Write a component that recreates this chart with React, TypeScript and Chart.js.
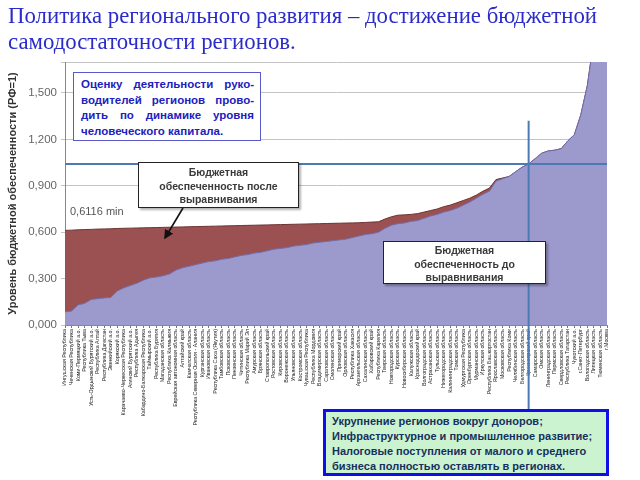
import React, { useEffect, useRef } from 'react';
import { Chart, registerables } from 'chart.js';

Chart.register(...registerables);

const regions: string[] = [
  'Ингушская Республика', 'Чеченская Республика', 'Коми-Пермяцкий а.о.', 'Республика Тыва',
  'Усть-Ордынский Бурятский а.о.', 'Республика Алтай', 'Республика Дагестан', 'Эвенкийский а.о.',
  'Корякский а.о.', 'Карачаево-Черкесская Республика', 'Агинский Бурятский а.о.', 'Республика Адыгея',
  'Кабардино-Балкарская Республика', 'Таймырский а.о.', 'Республика Бурятия', 'Магаданская область',
  'Республика Калмыкия', 'Еврейская автономная область', 'Алтайский край', 'Камчатская область',
  'Республика Северная Осетия - Алания', 'Курганская область', 'Ивановская область', 'Республика Саха (Якутия)',
  'Тамбовская область', 'Псковская область', 'Пензенская область', 'Читинская область',
  'Республика Марий Эл', 'Амурская область', 'Брянская область', 'Ставропольский край',
  'Ростовская область', 'Кировская область', 'Воронежская область', 'Ульяновская область',
  'Костромская область', 'Чувашская Республика', 'Республика Мордовия', 'Владимирская область',
  'Саратовская область', 'Смоленская область', 'Приморский край', 'Орловская область',
  'Республика Хакасия', 'Архангельская область', 'Сахалинская область', 'Хабаровский край',
  'Республика Карелия', 'Тверская область', 'Новгородская область', 'Курская область',
  'Новосибирская область', 'Калужская область', 'Краснодарский край', 'Волгоградская область',
  'Астраханская область', 'Тульская область', 'Нижегородская область', 'Калининградская область',
  'Томская область', 'Удмуртская Республика', 'Оренбургская область', 'Мурманская область',
  'Иркутская область', 'Республика Башкортостан', 'Ярославская область', 'Московская область',
  'Республика Коми', 'Челябинская область', 'Белгородская область', 'Красноярский край',
  'Самарская область', 'Омская область', 'Ленинградская область', 'Пермская область',
  'Свердловская область', 'Республика Татарстан', 'Чукотский а.о.', 'г.Санкт-Петербург',
  'Вологодская область', 'Липецкая область', 'Тюменская область', 'г.Москва',
];

// Budget sufficiency before equalization
const beforeEq: number[] = [
  0.085, 0.09, 0.13, 0.14, 0.165, 0.17, 0.175, 0.178, 0.22, 0.24,
  0.255, 0.27, 0.29, 0.305, 0.31, 0.318, 0.33, 0.355, 0.37, 0.38,
  0.39, 0.40, 0.41, 0.415, 0.425, 0.43, 0.44, 0.45, 0.455, 0.465,
  0.47, 0.48, 0.49, 0.495, 0.50, 0.51, 0.515, 0.52, 0.53, 0.535,
  0.54, 0.545, 0.55, 0.555, 0.565, 0.575, 0.585, 0.59, 0.60, 0.625,
  0.645, 0.655, 0.66, 0.67, 0.675, 0.69, 0.705, 0.715, 0.73, 0.74,
  0.755, 0.775, 0.795, 0.82, 0.845, 0.865, 0.93, 0.945, 0.96, 0.99,
  1.02, 1.04, 1.075, 1.11, 1.125, 1.13, 1.14, 1.19, 1.23, 1.36,
  1.55, 1.85, 2.1, 2.4,
];

// Budget sufficiency after equalization
const afterEq: number[] = [
  0.6116, 0.613, 0.615, 0.617, 0.618, 0.62, 0.621, 0.622, 0.624, 0.625,
  0.626, 0.627, 0.628, 0.629, 0.63, 0.631, 0.632, 0.633, 0.634, 0.635,
  0.636, 0.637, 0.638, 0.639, 0.64, 0.641, 0.642, 0.643, 0.644, 0.645,
  0.646, 0.647, 0.648, 0.649, 0.65, 0.651, 0.652, 0.653, 0.654, 0.655,
  0.656, 0.657, 0.658, 0.659, 0.66, 0.661, 0.663, 0.665, 0.667, 0.685,
  0.70, 0.71, 0.712, 0.715, 0.72, 0.73, 0.74, 0.75, 0.765, 0.775,
  0.79, 0.805, 0.82, 0.84, 0.865, 0.885, 0.94, 0.95, 0.96, 0.99,
  1.02, 1.04, 1.075, 1.11, 1.125, 1.13, 1.14, 1.19, 1.23, 1.36,
  1.55, 1.85, 2.1, 2.4,
];

const yMin = 0;
const yMax = 1.7;
const yStep = 0.3;
const minAfter = 0.6116;
const levelLine = 1.04;
const splitIndex = 71;
const splitTop = 1.32;

const titleLines = ['Политика регионального развития – достижение бюджетной', 'самодостаточности регионов.'];
const noteLines = ['Оценку деятельности руко-', 'водителей регионов прово-', 'дить по динамике уровня', 'человеческого капитала.'];
const afterLines = ['Бюджетная', 'обеспеченность после', 'выравнивания'];
const beforeLines = ['Бюджетная', 'обеспеченность до', 'выравнивания'];
const policyLines = [
  'Укрупнение регионов вокруг доноров;',
  'Инфраструктурное и промышленное развитие;',
  'Налоговые поступления от малого и среднего',
  'бизнеса полностью оставлять в регионах.',
];
const yTitle = 'Уровень бюджетной обеспеченности (РФ=1)';

const fmt = (v: number, d: number) => v.toFixed(d).replace('.', ',');

const guides = {
  id: 'guides',
  afterDatasetsDraw(chart: any) {
    const { ctx, chartArea, scales } = chart;
    const x = scales.x;
    const y = scales.y;
    ctx.save();
    ctx.strokeStyle = '#4d7ab5';
    ctx.lineWidth = 2;
    const yy = y.getPixelForValue(levelLine);
    ctx.beginPath();
    ctx.moveTo(chartArea.left, yy);
    ctx.lineTo(chartArea.right, yy);
    ctx.stroke();
    const xx = x.getPixelForValue(splitIndex);
    ctx.beginPath();
    ctx.moveTo(xx, y.getPixelForValue(splitTop));
    ctx.lineTo(xx, chartArea.bottom + 86);
    ctx.stroke();
    ctx.restore();
  },
};

const sans = '"Liberation Sans", Arial, sans-serif';

export default function App() {
  const ref = useRef<HTMLCanvasElement | null>(null);

  useEffect(() => {
    if (!ref.current) return;
    const chart = new Chart(ref.current, {
      type: 'line',
      data: {
        labels: regions,
        datasets: [
          {
            label: 'после выравнивания',
            data: afterEq,
            borderColor: '#6e3434',
            backgroundColor: '#9b5151',
            borderWidth: 1,
            pointRadius: 0,
            fill: 'origin',
            tension: 0,
            order: 2,
          },
          {
            label: 'до выравнивания',
            data: beforeEq,
            borderColor: '#716db0',
            backgroundColor: '#9c99cd',
            borderWidth: 1,
            pointRadius: 0,
            fill: 'origin',
            tension: 0,
            order: 1,
          },
        ],
      },
      options: {
        responsive: false,
        animation: false,
        layout: { padding: { left: 0, top: 62, right: 33, bottom: 0 } },
        plugins: {
          legend: { display: false },
          tooltip: { enabled: false },
        },
        scales: {
          x: {
            offset: false,
            afterFit: (s: any) => { s.height = 155; },
            grid: { drawOnChartArea: false, tickLength: 3, color: '#777' },
            border: { color: '#888' },
            ticks: {
              autoSkip: false,
              minRotation: 90,
              maxRotation: 90,
              padding: 1,
              color: '#222',
              font: { size: 5.3, family: sans },
            },
          },
          y: {
            min: yMin,
            max: yMax,
            afterFit: (s: any) => { s.width = 65; },
            border: { color: '#888' },
            grid: { color: '#c4c4c4', tickLength: 4 },
            ticks: {
              stepSize: yStep,
              color: '#666',
              padding: 4,
              font: { size: 11.5, family: sans },
              callback: (v: any) => {
                const n = Number(v);
                const k = Math.round(n / yStep);
                return Math.abs(k * yStep - n) < 1e-6 ? fmt(n, 3) : '';
              },
            },
            title: {
              display: true,
              text: yTitle,
              color: '#333',
              font: { size: 11, weight: 'bold', family: sans },
              padding: { top: 6, bottom: 0 },
            },
          },
        },
      },
      plugins: [guides],
    } as any);
    return () => chart.destroy();
  }, []);

  const boxText: React.CSSProperties = {
    position: 'absolute',
    background: '#fff',
    fontFamily: sans,
    fontWeight: 'bold',
    boxSizing: 'border-box',
  };

  return (
    <div style={{ position: 'absolute', left: 0, top: 0, width: 640, height: 480, background: '#fff', overflow: 'hidden' }}>
      <canvas ref={ref} width={640} height={480} style={{ position: 'absolute', left: 0, top: 0, width: 640, height: 480 }} />
      <div style={{ position: 'absolute', left: 8, top: 3, fontFamily: '"Liberation Serif", "Times New Roman", serif', fontSize: 22.8, lineHeight: '26px', color: '#2b2bcc', whiteSpace: 'nowrap' }}>
        {titleLines.map((l, i) => <div key={i}>{l}</div>)}
      </div>
      <div style={{ ...boxText, left: 73, top: 72, width: 188, height: 69, border: '1px solid #5a5ac8', padding: '4px 6px 0 7px', color: '#2020c0', fontSize: 11.5, lineHeight: '15.5px' }}>
        {noteLines.map((l, i) => (
          <div key={i} style={{ textAlign: 'justify', textAlignLast: i < 3 ? 'justify' : 'left', whiteSpace: 'nowrap' }}>{l}</div>
        ))}
      </div>
      <div style={{ ...boxText, left: 138, top: 162, width: 161, height: 46, border: '1.5px solid #222', padding: '3px 0 0 0', color: '#3a3a3a', fontSize: 10.5, lineHeight: '13.5px', textAlign: 'center', boxShadow: '2px 2px 2px rgba(0,0,0,0.3)' }}>
        {afterLines.map((l, i) => <div key={i}>{l}</div>)}
      </div>
      <div style={{ ...boxText, left: 383, top: 241, width: 163, height: 43, border: '1.5px solid #222', padding: '2px 0 0 0', color: '#3a3a3a', fontSize: 10.5, lineHeight: '13.5px', textAlign: 'center', boxShadow: '2px 2px 2px rgba(0,0,0,0.3)' }}>
        {beforeLines.map((l, i) => <div key={i}>{l}</div>)}
      </div>
      <div style={{ position: 'absolute', left: 70, top: 205, fontFamily: sans, fontSize: 11, color: '#555' }}>
        {fmt(minAfter, 4)} min
      </div>
      <svg width={640} height={480} style={{ position: 'absolute', left: 0, top: 0, pointerEvents: 'none' }}>
        <defs>
          <marker id="ah" markerWidth="6" markerHeight="6" refX="5" refY="3" orient="auto">
            <path d="M0,0 L6,3 L0,6 z" fill="#111" />
          </marker>
        </defs>
        <line x1={183} y1={208} x2={165} y2={238} stroke="#111" strokeWidth={1.6} markerEnd="url(#ah)" />
      </svg>
      <div style={{ position: 'absolute', left: 323, top: 409, width: 286, height: 67, boxSizing: 'border-box', background: '#ccf3cf', border: '3px solid #1010e6', padding: '2px 0 0 6px', fontFamily: sans, fontWeight: 'bold', fontSize: 11, lineHeight: '15px', color: '#15305e', whiteSpace: 'nowrap' }}>
        {policyLines.map((l, i) => <div key={i}>{l}</div>)}
      </div>
    </div>
  );
}
